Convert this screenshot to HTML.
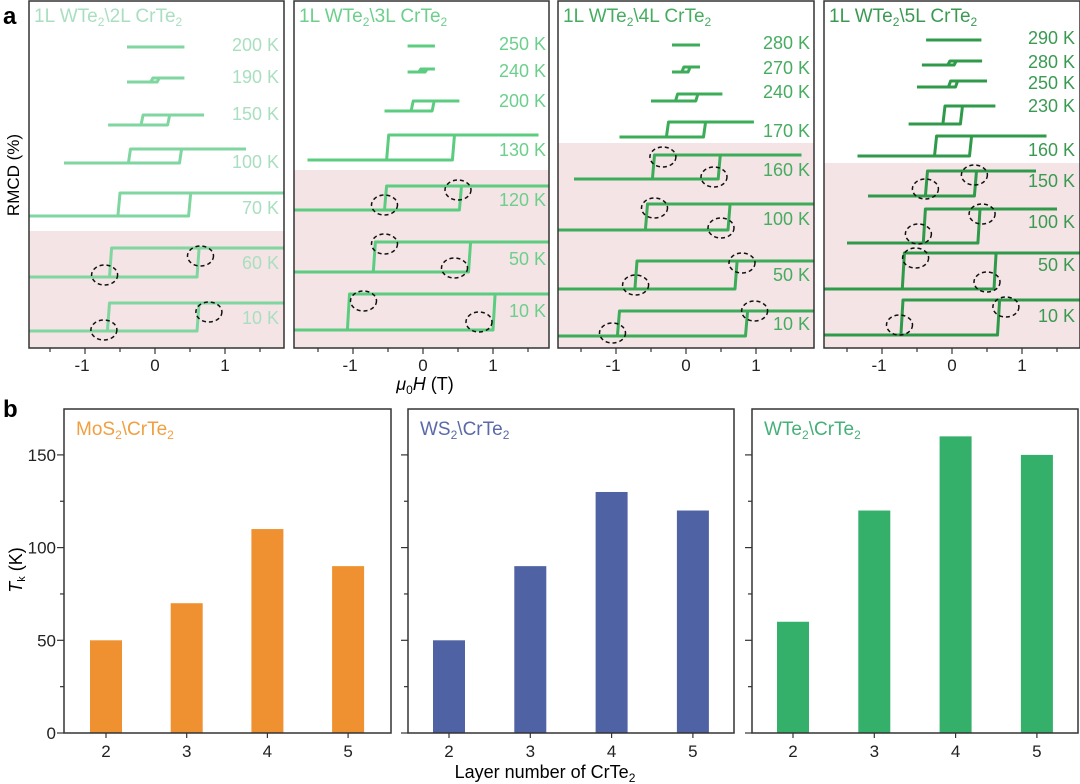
<!DOCTYPE html>
<html><head><meta charset="utf-8"><style>
html,body{margin:0;padding:0;background:#fff;}
svg{display:block;font-family:"Liberation Sans",sans-serif;}
</style></head><body>
<svg id="fig" width="1080" height="784" viewBox="0 0 1080 784" xmlns="http://www.w3.org/2000/svg">
<text x="3" y="24" font-size="24" font-weight="bold">a</text>
<text x="3" y="417" font-size="24" font-weight="bold">b</text>
<text x="19" y="175" font-size="17" transform="rotate(-90 19 175)" text-anchor="middle">RMCD (%)</text>
<text x="425" y="390" font-size="18" text-anchor="middle"><tspan font-style="italic">μ</tspan><tspan font-size="12" dy="4">0</tspan><tspan font-style="italic" dy="-4">H</tspan> (T)</text>
<text x="22" y="570" font-size="18" transform="rotate(-90 22 570)" text-anchor="middle"><tspan font-style="italic">T</tspan><tspan font-size="11" dy="3">k</tspan><tspan dy="-3"> (K)</tspan></text>
<text x="545" y="778" font-size="18" text-anchor="middle">Layer number of CrTe<tspan font-size="12" dy="4">2</tspan></text>
<g id="ga"></g><g id="gb"></g>
</svg>
<script>
// ---------- Panel a data ----------
// each curve: [label, yUpperPx, yLowerPx, hMin(T), hMax(T), hcNeg(T), hcPos(T)]
const curves1 = [["200 K",47,47,-0.4,0.42,0,0],["190 K",78,82,-0.4,0.42,-0.03,0.03],["150 K",115,125,-0.67,0.7,-0.17,0.18],["100 K",149,163,-1.3,1.3,-0.35,0.35],["70 K",193,216,-1.9,1.9,-0.5,0.48],["60 K",248,277,-1.9,1.9,-0.62,0.6],["10 K",303,331,-1.9,1.9,-0.65,0.6]];
const curves2 = [["250 K",46,46,-0.22,0.17,0,0],["240 K",69,72,-0.22,0.17,-0.03,0.03],["200 K",101,111,-0.55,0.52,-0.14,0.13],["130 K",135,160,-1.65,1.65,-0.49,0.42],["120 K",186,210,-1.9,1.9,-0.52,0.52],["50 K",242,272,-1.9,1.9,-0.68,0.65],["10 K",294,330,-1.9,1.9,-1.05,1.0]];
const curves3 = [["280 K",45,45,-0.2,0.2,0,0],["270 K",67,72,-0.2,0.2,-0.03,0.03],["240 K",94,101,-0.5,0.52,-0.12,0.14],["170 K",122,137,-0.95,0.97,-0.25,0.25],["160 K",155,179,-1.6,1.65,-0.45,0.46],["100 K",204,230,-1.9,1.9,-0.55,0.6],["50 K",261,289,-1.9,1.9,-0.7,0.7],["10 K",311,336,-1.9,1.9,-0.95,0.85]];
const curves4 = [["290 K",40,40,-0.37,0.42,0,0],["280 K",61,65,-0.43,0.43,-0.03,0.03],["250 K",81,87,-0.5,0.5,-0.02,0.05],["230 K",106,124,-0.62,0.62,-0.1,0.12],["160 K",136,156,-1.35,1.35,-0.22,0.25],["150 K",171,196,-1.2,1.2,-0.35,0.32],["100 K",209,243,-1.5,1.5,-0.38,0.37],["50 K",253,289,-1.9,1.9,-0.68,0.6],["10 K",300,335,-1.9,1.9,-0.7,0.65]];
const labelY1 = [45,77,114,162,208,263,318];
const labelY2 = [44,71,101,150,200,259,311];
const labelY3 = [43,68,92,131,170,219,275,324];
const labelY4 = [38,62,83,106,150,181,222,265,316];
// circles: [H(T), yPx]
const circ1 = [[-0.72,275],[0.65,256],[-0.73,330],[0.77,312]];
const circ2 = [[-0.55,205],[0.5,190],[-0.55,244],[0.45,268],[-0.85,301],[0.8,322]];
const circ3 = [[-0.33,157],[0.4,177],[-0.45,208],[0.5,228],[-0.72,285],[0.8,263],[-1.05,333],[0.98,311]];
const circ4 = [[-0.38,189],[0.32,175],[-0.48,234],[0.43,214],[-0.52,258],[0.5,282],[-0.75,325],[0.77,307]];
const xTicksA = [-1,0,1];
const titlesA = ["2L","3L","4L","5L"];

// ---------- Panel b data ----------
const layers = ["2","3","4","5"];
const tkMoS2 = [50,70,110,90];
const tkWS2 = [50,90,130,120];
const tkWTe2 = [60,120,160,150];
const yTicksB = [0,50,100,150];
const namesB = ["MoS2","WS2","WTe2"];

const NS="http://www.w3.org/2000/svg";
function mk(tag,attrs,parent){const e=document.createElementNS(NS,tag);for(const k in attrs)e.setAttribute(k,attrs[k]);parent.appendChild(e);return e;}

const panelsA=[
 {x0:29,x1:284,zero:155,pink:231,col:"#7fd6a0",tcol:"#a9dfc0",curves:curves1,ly:labelY1,circ:circ1,lx:279},
 {x0:294,x1:549,zero:423,pink:170,col:"#5ccd80",tcol:"#6ccf8c",curves:curves2,ly:labelY2,circ:circ2,lx:546},
 {x0:558,x1:814,zero:686,pink:143,col:"#3cac58",tcol:"#46ad60",curves:curves3,ly:labelY3,circ:circ3,lx:810},
 {x0:824,x1:1080,zero:952,pink:163,col:"#2f9a49",tcol:"#3a9a52",curves:curves4,ly:labelY4,circ:circ4,lx:1075}];
const SC=70, TOP=1, BOT=348;
const ga=document.getElementById('ga');
panelsA.forEach((p,i)=>{
  const g=mk('g',{},ga);
  
  
  const cid='clipA'+i;
  const cp=mk('clipPath',{id:cid},g); mk('rect',{x:p.x0,y:TOP,width:p.x1-p.x0,height:BOT-TOP},cp);
  const pk=mk('rect',{x:p.x0,y:p.pink,width:p.x1-p.x0,height:BOT-p.pink,fill:"#f4e4e5"},g);
  
  
  const X=h=>p.zero+h*SC;
  const cg=mk('g',{'clip-path':'url(#'+cid+')'},g);
  p.curves.forEach((c,j)=>{
    const [lab,yu,yl,hmin,hmax,hn,hp]=c;
    const sl=(yu-yl)!==0?0.03:0;
    const d=`M${X(hmin)},${yl} L${X(hp)},${yl} L${X(hp+sl)},${yu} L${X(hmax)},${yu} M${X(hmax)},${yu} L${X(hn)},${yu} L${X(hn-sl)},${yl} L${X(hmin)},${yl}`;
    const pa=mk('path',{d:d,fill:"none",stroke:p.col,'stroke-width':3,'stroke-linejoin':'round'},cg);
    
    
    const t=mk('text',{x:p.lx,y:p.ly[j]+6,'font-size':18,'text-anchor':'end',fill:p.tcol},g);
    t.textContent=lab;
    
    
  });
  p.circ.forEach(c=>{
    const e=mk('ellipse',{cx:X(c[0]),cy:c[1],rx:13,ry:10,fill:"none",stroke:"#111",'stroke-width':1.5,'stroke-dasharray':'4 3'},g);
    
    
  });
  const fr=mk('rect',{x:p.x0,y:TOP,width:p.x1-p.x0,height:BOT-TOP,fill:"none",stroke:"#333",'stroke-width':1.5},g);
  
  
  for(let h=-1.5;h<=1.5;h+=0.5){ if(X(h)>p.x0&&X(h)<p.x1) mk('line',{x1:X(h),x2:X(h),y1:BOT,y2:BOT+(Number.isInteger(h)?6:4),stroke:"#333",'stroke-width':1.2},g);}
  xTicksA.forEach(v=>{const t=mk('text',{x:X(v)-(v<0?3:0),y:BOT+23,'font-size':17,'text-anchor':'middle',fill:"#222"},g);t.textContent=String(v);
    
    });
  const tt=mk('text',{x:p.x0+5,y:22,'font-size':19,fill:p.tcol},g);
  tt.innerHTML='1L WTe<tspan font-size="12" dy="4">2</tspan><tspan dy="-4">\\'+titlesA[i]+' CrTe</tspan><tspan font-size="12" dy="4">2</tspan>';
  
  
});

// ---------- Panel b ----------
const gb=document.getElementById('gb');
const panelsB=[
 {x0:64,x1:391,col:"#ef9130",tcol:"#f0a040",vals:tkMoS2,name:"MoS",first:106,step:80.7},
 {x0:408,x1:734,col:"#4f62a3",tcol:"#5a6aa8",vals:tkWS2,name:"WS",first:449,step:81.3},
 {x0:752,x1:1078,col:"#35b06b",tcol:"#45b078",vals:tkWTe2,name:"WTe",first:793,step:81.3}];
const BT=409,BB=733,PXK=1.854,BW=32;
const Y=v=>BB-v*PXK;
panelsB.forEach((p,i)=>{
  const g=mk('g',{},gb);
  
  
  const Xc=k=>p.first+k*p.step;
  p.vals.forEach((v,k)=>{
    const r=mk('rect',{x:Xc(k)-BW/2,y:Y(v),width:BW,height:BB-Y(v),fill:p.col},g);
    
    
    mk('line',{x1:Xc(k),x2:Xc(k),y1:BB,y2:BB+5,stroke:"#333",'stroke-width':1.2},g);
    const t=mk('text',{x:Xc(k),y:BB+24,'font-size':17,'text-anchor':'middle',fill:"#222"},g);
    t.textContent=layers[k];
    
    
  });
  for(let v=0;v<=150;v+=25){mk('line',{x1:p.x0-(v%50===0?7:4),x2:p.x0,y1:Y(v),y2:Y(v),stroke:"#333",'stroke-width':1.2},g);}
  if(i===0){yTicksB.forEach(v=>{const t=mk('text',{x:p.x0-8,y:Y(v)+6,'font-size':17,'text-anchor':'end',fill:"#222"},g);t.textContent=String(v);
    
    });}
  const fr=mk('rect',{x:p.x0,y:BT,width:p.x1-p.x0,height:BB-BT,fill:"none",stroke:"#333",'stroke-width':1.5},g);
  
  
  const tt=mk('text',{x:p.x0+12,y:BT+26,'font-size':19,fill:p.tcol},g);
  tt.innerHTML=p.name+'<tspan font-size="12" dy="4">2</tspan><tspan dy="-4">\\CrTe</tspan><tspan font-size="12" dy="4">2</tspan>';
  
  
});
</script>
</body></html>
